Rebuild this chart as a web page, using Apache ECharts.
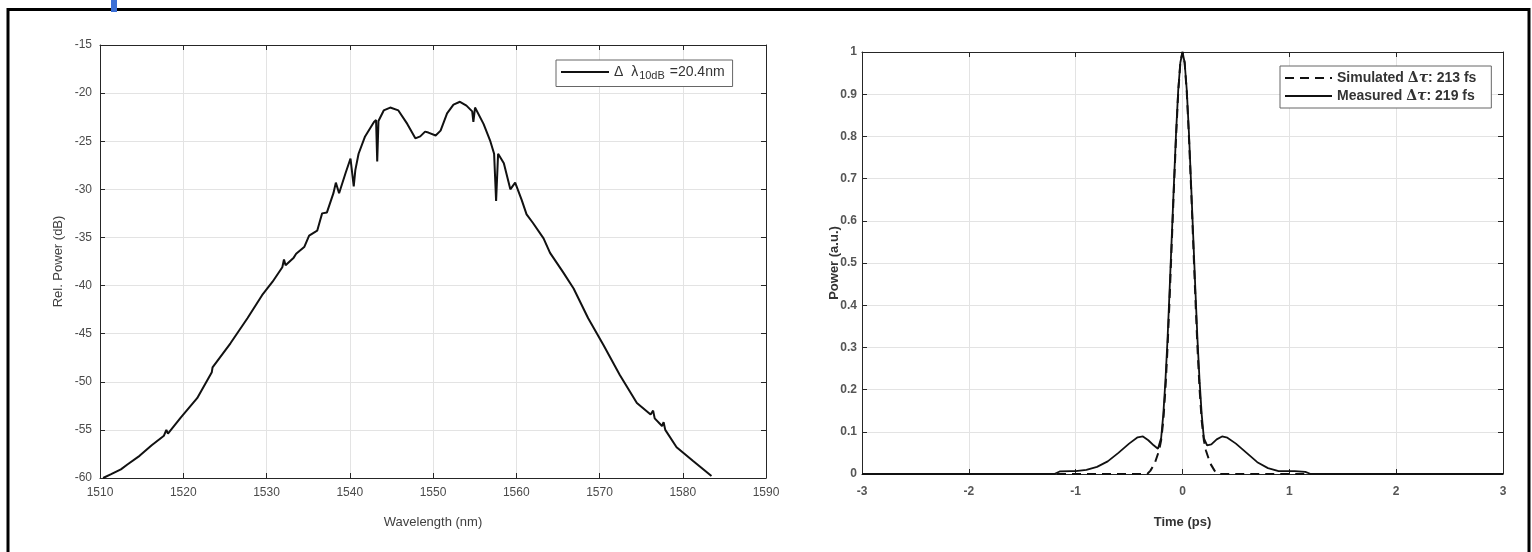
<!DOCTYPE html>
<html>
<head>
<meta charset="utf-8">
<script src="https://cdn.jsdelivr.net/npm/echarts@6/dist/echarts.min.js"></script>
<style>
html,body{margin:0;padding:0;background:#fff;}
#c{width:1532px;height:552px;}
</style>
</head>
<body>
<div id="c"></div>
<script>
// ---- Left panel: spectrum ----
const wavelength = [1510.37,1511.34,1512.51,1513.29,1514.75,1516.21,1517.68,1517.97,1518.16,1519.72,1521.67,1523.43,1523.52,1523.72,1525.67,1527.71,1529.47,1530.73,1531.90,1532.10,1532.29,1533.27,1533.56,1534.53,1535.12,1536.09,1536.48,1536.68,1537.26,1538.04,1538.33,1538.72,1539.50,1540.09,1540.48,1540.67,1541.06,1541.84,1542.91,1543.16,1543.30,1543.45,1544.08,1544.86,1545.84,1546.91,1547.88,1548.47,1549.05,1549.44,1550.32,1550.91,1551.69,1552.46,1553.24,1554.02,1554.71,1554.85,1555.05,1556.07,1556.85,1557.34,1557.58,1557.82,1558.51,1559.29,1559.87,1560.65,1561.24,1562.01,1563.28,1564.06,1565.62,1566.89,1568.64,1570.49,1572.44,1574.49,1576.14,1576.44,1576.63,1577.51,1577.70,1577.90,1579.26,1581.21,1583.45];
const relPower = [-60.0,-59.6,-59.1,-58.6,-57.7,-56.6,-55.6,-55.0,-55.4,-53.7,-51.7,-49.0,-48.5,-48.7,-46.0,-43.4,-41.0,-39.6,-38.1,-37.3,-37.9,-37.1,-36.7,-36.0,-34.8,-34.3,-33.1,-32.5,-32.4,-30.4,-29.3,-30.4,-28.3,-26.8,-29.7,-28.0,-26.3,-24.5,-23.0,-22.8,-27.1,-22.9,-21.8,-21.5,-21.8,-23.2,-24.7,-24.5,-24.0,-24.1,-24.4,-23.9,-22.1,-21.2,-20.9,-21.3,-21.9,-23.0,-21.5,-23.2,-24.9,-26.3,-31.2,-26.3,-27.3,-30.0,-29.3,-31.1,-32.6,-33.5,-35.1,-36.6,-38.6,-40.3,-43.4,-46.2,-49.3,-52.2,-53.4,-53.0,-53.8,-54.6,-54.2,-55.0,-56.8,-58.2,-59.8];
const wlTicks = {min:1510, max:1590, interval:10};
const dbTicks = {min:-60, max:-15, interval:5};

// ---- Right panel: pulse ----
const timeMeasured = [-3,-1.2,-1.15,-1.05,-1.0,-0.9,-0.8,-0.7,-0.6,-0.5,-0.42,-0.37,-0.32,-0.27,-0.23,-0.2,-0.18,-0.16,-0.14,-0.12,-0.10,-0.08,-0.06,-0.04,-0.02,0,0.02,0.04,0.06,0.08,0.10,0.12,0.14,0.16,0.18,0.2,0.23,0.27,0.32,0.37,0.42,0.5,0.6,0.7,0.8,0.9,1.05,1.15,1.2,3];
const powerMeasured = [0,0,0.006,0.007,0.007,0.01,0.017,0.03,0.05,0.072,0.087,0.089,0.08,0.068,0.06,0.085,0.14,0.22,0.32,0.44,0.565,0.69,0.81,0.91,0.975,1.0,0.975,0.91,0.81,0.69,0.565,0.44,0.32,0.22,0.14,0.085,0.068,0.07,0.082,0.089,0.086,0.072,0.05,0.028,0.014,0.007,0.007,0.005,0,0];
const timeSimulated = [-3,-0.33,-0.3,-0.26,-0.22,-0.2,-0.18,-0.16,-0.14,-0.12,-0.10,-0.08,-0.06,-0.04,-0.02,0,0.02,0.04,0.06,0.08,0.10,0.12,0.14,0.16,0.18,0.2,0.22,0.26,0.3,0.33,3];
const powerSimulated = [0,0,0.008,0.025,0.055,0.08,0.125,0.20,0.30,0.42,0.55,0.68,0.80,0.905,0.975,1.0,0.975,0.905,0.80,0.68,0.55,0.42,0.30,0.20,0.125,0.08,0.055,0.025,0.008,0,0];
const timeTicks = {min:-3, max:3, interval:1};
const powTicks = {min:0, max:1, interval:0.1};

const legendLeft = 'Δ λ10dB =20.4nm';
const legendSim = 'Simulated Δτ: 213 fs';
const legendMeas = 'Measured Δτ: 219 fs';

const zip = (a,b) => a.map((v,i)=>[v,b[i]]);

const FONT = '"Liberation Sans", Arial, sans-serif';
const AX = '#262626';
const GRID = '#e3e3e3';

function mainAxis(range, pos, gridIndex, labelStyle, name, nameGap, extra) {
  return Object.assign({
    type:'value', gridIndex, position: pos,
    min: range.min, max: range.max, interval: range.interval,
    name, nameLocation:'middle', nameGap, nameMoveOverlap:false,
    nameTextStyle: labelStyle.name,
    axisLine:{show:true, onZero:false, lineStyle:{color:AX, width:1}},
    axisTick:{show:true, inside:true, length:5, lineStyle:{color:AX}},
    axisLabel: labelStyle.label,
    splitLine:{show:true, lineStyle:{color:GRID, width:1}}
  }, extra||{});
}
function mirrorAxis(range, pos, gridIndex) {
  return {
    type:'value', gridIndex, position: pos,
    min: range.min, max: range.max, interval: range.interval,
    axisLine:{show:true, onZero:false, lineStyle:{color:AX, width:1}},
    axisTick:{show:true, inside:true, length:5, lineStyle:{color:AX}},
    axisLabel:{show:false}, splitLine:{show:false}
  };
}
const plain = v => String(v);

const leftStyle = {
  label:{color:'#4a4a4a', fontFamily:FONT, fontSize:12, margin:8, formatter:plain},
  name:{color:'#404040', fontFamily:FONT, fontSize:13}
};
const leftStyleX = {
  label:{color:'#4a4a4a', fontFamily:FONT, fontSize:12, margin:9, formatter:plain},
  name:{color:'#404040', fontFamily:FONT, fontSize:13}
};
const rightStyle = {
  label:{color:'#555', fontFamily:FONT, fontSize:12, fontWeight:'bold', margin:5,
         formatter:v=> String(Math.round(v*10)/10)},
  name:{color:'#333', fontFamily:FONT, fontSize:13, fontWeight:'bold'}
};
const rightStyleX = {
  label:{color:'#555', fontFamily:FONT, fontSize:12, fontWeight:'bold', margin:12, formatter:plain},
  name:{color:'#333', fontFamily:FONT, fontSize:13, fontWeight:'bold'}
};

const chart = echarts.init(document.getElementById('c'), null, {renderer:'canvas'});
chart.setOption({
  animation:false,
  backgroundColor:'#fff',
  grid:[
    {left:100, top:45, width:666, height:433},
    {left:862, top:52, width:641, height:422}
  ],
  xAxis:[
    mainAxis(wlTicks,'bottom',0,leftStyleX,'Wavelength (nm)',38),
    mirrorAxis(wlTicks,'top',0),
    mainAxis(timeTicks,'bottom',1,rightStyleX,'Time (ps)',42),
    mirrorAxis(timeTicks,'top',1)
  ],
  yAxis:[
    mainAxis(dbTicks,'left',0,leftStyle,'Rel. Power (dB)',35),
    mirrorAxis(dbTicks,'right',0),
    mainAxis(powTicks,'left',1,rightStyle,'Power (a.u.)',21),
    mirrorAxis(powTicks,'right',1)
  ],
  legend:[
    {
      data:[legendLeft], left:556, top:60, orient:'vertical',
      itemWidth:48, itemHeight:14, itemGap:0,
      padding:[5,8,5,4],
      backgroundColor:'#fff', borderColor:'#666', borderWidth:1,
      itemStyle:{opacity:0},
      formatter:()=> '{a|Δ  λ}{s|10dB}{a| =20.4nm}',
      textStyle:{fontFamily:FONT, color:'#333', fontSize:14,
        rich:{a:{fontFamily:FONT, fontSize:14, color:'#333'},
              s:{fontFamily:FONT, fontSize:11, color:'#333', padding:[8,1,0,1]}}}
    },
    {
      data:[legendSim, legendMeas], left:1280, top:66, orient:'vertical',
      itemWidth:47, itemHeight:14, itemGap:4,
      padding:[5,15,5,4],
      backgroundColor:'#fff', borderColor:'#666', borderWidth:1,
      itemStyle:{opacity:0},
      formatter:(n)=> n===legendSim ? '{b|Simulated }{g|Δ}{t|τ}{b|: 213 fs}' : '{b|Measured }{g|Δ}{t|τ}{b|: 219 fs}',
      textStyle:{fontFamily:FONT, color:'#333', fontSize:14, fontWeight:'bold',
        rich:{b:{fontFamily:FONT, fontSize:14, fontWeight:'bold', color:'#333'},
              g:{fontFamily:'"DejaVu Serif", serif', fontSize:14, color:'#333'},
              t:{fontFamily:'"DejaVu Serif", serif', fontSize:14, fontStyle:'italic', color:'#333'}}}
    }
  ],
  series:[
    {name:legendLeft, type:'line', xAxisIndex:0, yAxisIndex:0, data:zip(wavelength, relPower),
     showSymbol:false, symbol:'none', lineStyle:{color:'#111', width:2}, itemStyle:{color:'#111'}},
    {name:legendMeas, type:'line', xAxisIndex:2, yAxisIndex:2, data:zip(timeMeasured, powerMeasured),
     showSymbol:false, symbol:'none', lineStyle:{color:'#111', width:1.8}, itemStyle:{color:'#111'}},
    {name:legendSim, type:'line', xAxisIndex:2, yAxisIndex:2, data:zip(timeSimulated, powerSimulated),
     showSymbol:false, symbol:'none', lineStyle:{color:'#111', width:2, type:[9,6]}, itemStyle:{color:'#111'}}
  ],
  graphic:[
    {type:'rect', silent:true, z:100, shape:{x:8, y:9.5, width:1521, height:600},
     style:{fill:null, stroke:'#000', lineWidth:3}},
    {type:'rect', silent:true, z:101, shape:{x:111, y:0, width:6, height:12},
     style:{fill:'#3b6fd6'}}
  ]
});
</script>
</body>
</html>
